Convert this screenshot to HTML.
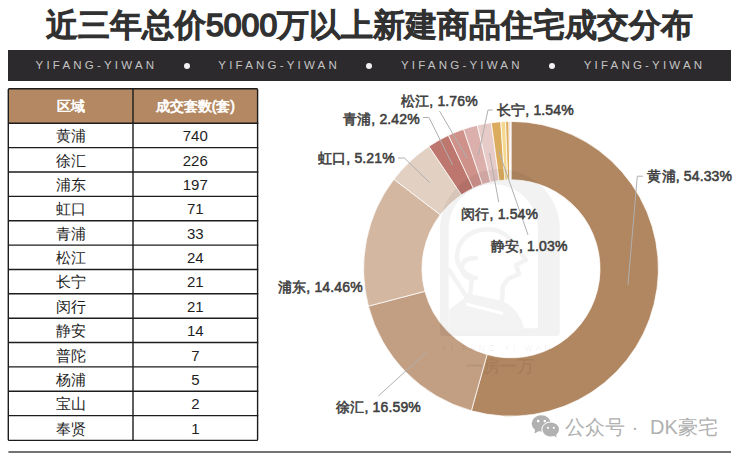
<!DOCTYPE html>
<html><head><meta charset="utf-8">
<style>
*{margin:0;padding:0;box-sizing:border-box}
html,body{width:740px;height:456px;overflow:hidden;background:#fff}
body{position:relative;font-family:"Liberation Sans",sans-serif}
.title{position:absolute;left:46px;top:3px;font-size:32px;font-weight:400;-webkit-text-stroke:1.7px #313131;color:#313131;white-space:nowrap;line-height:44px}
.band{position:absolute;left:8px;top:50.3px;width:723px;height:30.7px;background:#2c2a2c}
.bt{position:absolute;top:57px;font-size:11.5px;letter-spacing:3.2px;color:#c4c4c4;white-space:nowrap;line-height:16px}
.dot{position:absolute;top:63px;width:6px;height:6px;border-radius:50%;background:#f2f2f2}
.hdr{position:absolute;top:88.8px;height:34.5px;line-height:34.5px;background:#b38862;color:#fff;font-weight:400;-webkit-text-stroke:0.7px #fff;font-size:14px;text-align:center}
.cell{position:absolute;font-size:14px;color:#1e1e1e;text-align:center;white-space:nowrap}
.lab{position:absolute;font-size:14px;font-weight:400;-webkit-text-stroke:0.55px #404040;color:#404040;letter-spacing:0.15px;white-space:nowrap;line-height:20px}
.wm{position:absolute;top:414px;font-size:20px;color:#b0b0b0;white-space:nowrap;line-height:26px}
svg{position:absolute;left:0;top:0}
</style></head><body>
<div class="title">近三年总价5000万以上新建商品住宅成交分布</div>
<div class="band"></div>
<div class="bt" style="left:35.6px">YIFANG-YIWAN</div>
<div class="dot" style="left:183.5px"></div>
<div class="bt" style="left:218.3px">YIFANG-YIWAN</div>
<div class="dot" style="left:366.2px"></div>
<div class="bt" style="left:401.0px">YIFANG-YIWAN</div>
<div class="dot" style="left:548.9px"></div>
<div class="bt" style="left:583.7px">YIFANG-YIWAN</div>
<div class="hdr" style="left:8.6px;width:124.4px">区域</div>
<div class="hdr" style="left:133px;width:124.6px">成交套数(套)</div>
<div class="cell" style="left:8.6px;top:123.30px;width:124.4px;height:24.36px;line-height:27.86px;font-size:14.5px">黄浦</div>
<div class="cell" style="left:133px;top:123.30px;width:124.6px;height:24.36px;line-height:25.36px;font-size:15px">740</div>
<div class="cell" style="left:8.6px;top:147.66px;width:124.4px;height:24.36px;line-height:27.86px;font-size:14.5px">徐汇</div>
<div class="cell" style="left:133px;top:147.66px;width:124.6px;height:24.36px;line-height:25.36px;font-size:15px">226</div>
<div class="cell" style="left:8.6px;top:172.02px;width:124.4px;height:24.36px;line-height:27.86px;font-size:14.5px">浦东</div>
<div class="cell" style="left:133px;top:172.02px;width:124.6px;height:24.36px;line-height:25.36px;font-size:15px">197</div>
<div class="cell" style="left:8.6px;top:196.38px;width:124.4px;height:24.36px;line-height:27.86px;font-size:14.5px">虹口</div>
<div class="cell" style="left:133px;top:196.38px;width:124.6px;height:24.36px;line-height:25.36px;font-size:15px">71</div>
<div class="cell" style="left:8.6px;top:220.74px;width:124.4px;height:24.36px;line-height:27.86px;font-size:14.5px">青浦</div>
<div class="cell" style="left:133px;top:220.74px;width:124.6px;height:24.36px;line-height:25.36px;font-size:15px">33</div>
<div class="cell" style="left:8.6px;top:245.10px;width:124.4px;height:24.36px;line-height:27.86px;font-size:14.5px">松江</div>
<div class="cell" style="left:133px;top:245.10px;width:124.6px;height:24.36px;line-height:25.36px;font-size:15px">24</div>
<div class="cell" style="left:8.6px;top:269.46px;width:124.4px;height:24.36px;line-height:27.86px;font-size:14.5px">长宁</div>
<div class="cell" style="left:133px;top:269.46px;width:124.6px;height:24.36px;line-height:25.36px;font-size:15px">21</div>
<div class="cell" style="left:8.6px;top:293.82px;width:124.4px;height:24.36px;line-height:27.86px;font-size:14.5px">闵行</div>
<div class="cell" style="left:133px;top:293.82px;width:124.6px;height:24.36px;line-height:25.36px;font-size:15px">21</div>
<div class="cell" style="left:8.6px;top:318.18px;width:124.4px;height:24.36px;line-height:27.86px;font-size:14.5px">静安</div>
<div class="cell" style="left:133px;top:318.18px;width:124.6px;height:24.36px;line-height:25.36px;font-size:15px">14</div>
<div class="cell" style="left:8.6px;top:342.54px;width:124.4px;height:24.36px;line-height:27.86px;font-size:14.5px">普陀</div>
<div class="cell" style="left:133px;top:342.54px;width:124.6px;height:24.36px;line-height:25.36px;font-size:15px">7</div>
<div class="cell" style="left:8.6px;top:366.90px;width:124.4px;height:24.36px;line-height:27.86px;font-size:14.5px">杨浦</div>
<div class="cell" style="left:133px;top:366.90px;width:124.6px;height:24.36px;line-height:25.36px;font-size:15px">5</div>
<div class="cell" style="left:8.6px;top:391.26px;width:124.4px;height:24.36px;line-height:27.86px;font-size:14.5px">宝山</div>
<div class="cell" style="left:133px;top:391.26px;width:124.6px;height:24.36px;line-height:25.36px;font-size:15px">2</div>
<div class="cell" style="left:8.6px;top:415.62px;width:124.4px;height:24.36px;line-height:27.86px;font-size:14.5px">奉贤</div>
<div class="cell" style="left:133px;top:415.62px;width:124.6px;height:24.36px;line-height:25.36px;font-size:15px">1</div>
<svg width="740" height="456" viewBox="0 0 740 456">
<g fill="none" stroke="#1c1c1c" stroke-width="1.4">
<rect x="8.3" y="88.8" width="249.3" height="351.6" rx="1"/>
<line x1="133" y1="88.8" x2="133" y2="440.4"/>
<line x1="8" y1="123.3" x2="258.3" y2="123.3" stroke-width="1.6"/>
<line x1="8" y1="147.66" x2="258.3" y2="147.66"/>
<line x1="8" y1="172.02" x2="258.3" y2="172.02"/>
<line x1="8" y1="196.38" x2="258.3" y2="196.38"/>
<line x1="8" y1="220.74" x2="258.3" y2="220.74"/>
<line x1="8" y1="245.10" x2="258.3" y2="245.10"/>
<line x1="8" y1="269.46" x2="258.3" y2="269.46"/>
<line x1="8" y1="293.82" x2="258.3" y2="293.82"/>
<line x1="8" y1="318.18" x2="258.3" y2="318.18"/>
<line x1="8" y1="342.54" x2="258.3" y2="342.54"/>
<line x1="8" y1="366.90" x2="258.3" y2="366.90"/>
<line x1="8" y1="391.26" x2="258.3" y2="391.26"/>
<line x1="8" y1="415.62" x2="258.3" y2="415.62"/>
</g>
<line x1="8.4" y1="452" x2="731" y2="452" stroke="#444" stroke-width="1.6"/>
<path d="M511.00,121.40 A147.4,147.4 0 1 1 471.37,410.77 L487.07,354.52 A89.0,89.0 0 1 0 511.00,179.80 Z" fill="#b18761" stroke="#fff" stroke-width="0.75"/>
<path d="M471.37,410.77 A147.4,147.4 0 0 1 368.40,306.13 L424.90,291.34 A89.0,89.0 0 0 0 487.07,354.52 Z" fill="#c29e82" stroke="#fff" stroke-width="0.75"/>
<path d="M368.40,306.13 A147.4,147.4 0 0 1 393.90,179.27 L440.30,214.74 A89.0,89.0 0 0 0 424.90,291.34 Z" fill="#d3b7a0" stroke="#fff" stroke-width="0.75"/>
<path d="M393.90,179.27 A147.4,147.4 0 0 1 428.93,146.36 L461.45,194.87 A89.0,89.0 0 0 0 440.30,214.74 Z" fill="#e2d0c2" stroke="#fff" stroke-width="0.75"/>
<path d="M428.93,146.36 A147.4,147.4 0 0 1 448.45,135.33 L473.23,188.21 A89.0,89.0 0 0 0 461.45,194.87 Z" fill="#bd776f" stroke="#fff" stroke-width="0.75"/>
<path d="M448.45,135.33 A147.4,147.4 0 0 1 463.58,129.24 L482.37,184.53 A89.0,89.0 0 0 0 473.23,188.21 Z" fill="#cf928b" stroke="#fff" stroke-width="0.75"/>
<path d="M463.58,129.24 A147.4,147.4 0 0 1 477.30,125.30 L490.65,182.16 A89.0,89.0 0 0 0 482.37,184.53 Z" fill="#dbafab" stroke="#fff" stroke-width="0.75"/>
<path d="M477.30,125.30 A147.4,147.4 0 0 1 491.34,122.72 L499.13,180.60 A89.0,89.0 0 0 0 490.65,182.16 Z" fill="#e7cbc8" stroke="#fff" stroke-width="0.75"/>
<path d="M491.34,122.72 A147.4,147.4 0 0 1 500.81,121.75 L504.85,180.01 A89.0,89.0 0 0 0 499.13,180.60 Z" fill="#dcac5e" stroke="#fff" stroke-width="0.75"/>
<path d="M500.81,121.75 A147.4,147.4 0 0 1 505.56,121.50 L507.72,179.86 A89.0,89.0 0 0 0 504.85,180.01 Z" fill="#f5d88f" stroke="#fff" stroke-width="0.75"/>
<path d="M505.56,121.50 A147.4,147.4 0 0 1 508.96,121.41 L509.77,179.81 A89.0,89.0 0 0 0 507.72,179.86 Z" fill="#ddae5e" stroke="#fff" stroke-width="0.75"/>
<path d="M508.96,121.41 A147.4,147.4 0 0 1 510.32,121.40 L510.59,179.80 A89.0,89.0 0 0 0 509.77,179.81 Z" fill="#e4bcbc" stroke="#fff" stroke-width="0.75"/>
<path d="M510.32,121.40 A147.4,147.4 0 0 1 511.00,121.40 L511.00,179.80 A89.0,89.0 0 0 0 510.59,179.80 Z" fill="#e8c4c4" stroke="#fff" stroke-width="0.75"/>

<g id="logo">
<path d="M440,333 L440,229 A59.9,59.9 0 0 1 559.8,229 L559.8,333 Q559.8,336 556.8,336 L443,336 Q440,336 440,333 Z" fill="#000" fill-opacity="0.05"/>
</g>
<clipPath id="hole"><circle cx="511.0" cy="268.8" r="88.6"/></clipPath>
<g clip-path="url(#hole)">
<path d="M448.6,328.3 L448.6,229 A44.7,44.7 0 0 1 538,229 L538,328.3 Z" fill="#fff"/>
<g fill="none" stroke="#f3f3f3" stroke-width="4.5" stroke-linejoin="round" stroke-linecap="round">
<path d="M470,296 L472,277 Q457,270 457,256 Q458,236 480,230 Q502,226 514,244 L526,260 L516,265 L519,274 L508,279 L503,286 L502,302"/>
<path d="M476,258 Q462,258 462,268 Q463,279 476,278"/>
<path d="M449,270 L466,296"/>
</g>
<path d="M448.6,328.3 L448.6,310 L470,294 L503,301 Q520,310 524,328.3 Z" fill="#f3f3f3"/>
<path d="M466,304 L503,313.5" fill="none" stroke="#fff" stroke-width="3"/>
</g>
<text x="497.8" y="350.5" font-size="8.5" letter-spacing="3.3" fill="#000" fill-opacity="0.08" text-anchor="middle" font-family="Liberation Sans">YI FANG·YI WAN</text>
<text x="499.5" y="372" font-size="16.5" font-weight="bold" fill="#000" fill-opacity="0.07" text-anchor="middle" font-family="Liberation Sans">一房一万</text>

<g fill="#b1b1b1">
<ellipse cx="541.3" cy="423.4" rx="9.6" ry="8.1"/>
<path d="M535,429 L534.5,433.5 L540,430.5 Z"/>
</g>
<circle cx="538.2" cy="421.1" r="1.3" fill="#fff"/>
<circle cx="544.8" cy="421.1" r="1.3" fill="#fff"/>
<ellipse cx="550.7" cy="429.5" rx="9.3" ry="7.9" fill="#fff"/>
<g fill="#b1b1b1">
<ellipse cx="550.7" cy="429.5" rx="8.3" ry="6.9"/>
<path d="M553,435 L556.5,437.5 L556,432 Z"/>
</g>
<circle cx="548" cy="427.8" r="1.1" fill="#fff"/>
<circle cx="553.8" cy="427.8" r="1.1" fill="#fff"/>
<g fill="none" stroke="#b0b0b0" stroke-width="1">
<polyline points="642.9,176.2 637.3,176.2 628,284.8"/>
<polyline points="378.4,396 426.6,352"/>
<polyline points="398,158 404.4,158 429.7,182.6"/>
<polyline points="423,117.5 429,117.5 452.7,165"/>
<polyline points="439.5,111 467,158"/>
<polyline points="492.6,110 488,110 478.4,155"/>
<polyline points="489.5,153 498.8,202.3"/>
<polyline points="498.7,151 528,234.8"/>
</g>
</svg>
<div class="lab" style="left:647.4px;top:166.2px">黄浦, 54.33%</div>
<div class="lab" style="left:336.2px;top:397.0px">徐汇, 16.59%</div>
<div class="lab" style="left:278.0px;top:277.0px">浦东, 14.46%</div>
<div class="lab" style="left:318.0px;top:148.0px">虹口, 5.21%</div>
<div class="lab" style="left:343.0px;top:108.5px">青浦, 2.42%</div>
<div class="lab" style="left:401.0px;top:91.0px">松江, 1.76%</div>
<div class="lab" style="left:497.0px;top:100.0px">长宁, 1.54%</div>
<div class="lab" style="left:461.3px;top:203.5px">闵行, 1.54%</div>
<div class="lab" style="left:490.7px;top:236.0px">静安, 1.03%</div>
<div class="wm" style="left:565px">公众号</div>
<div class="wm" style="left:631.5px">·</div>
<div class="wm" style="left:650px">DK豪宅</div>
</body></html>
